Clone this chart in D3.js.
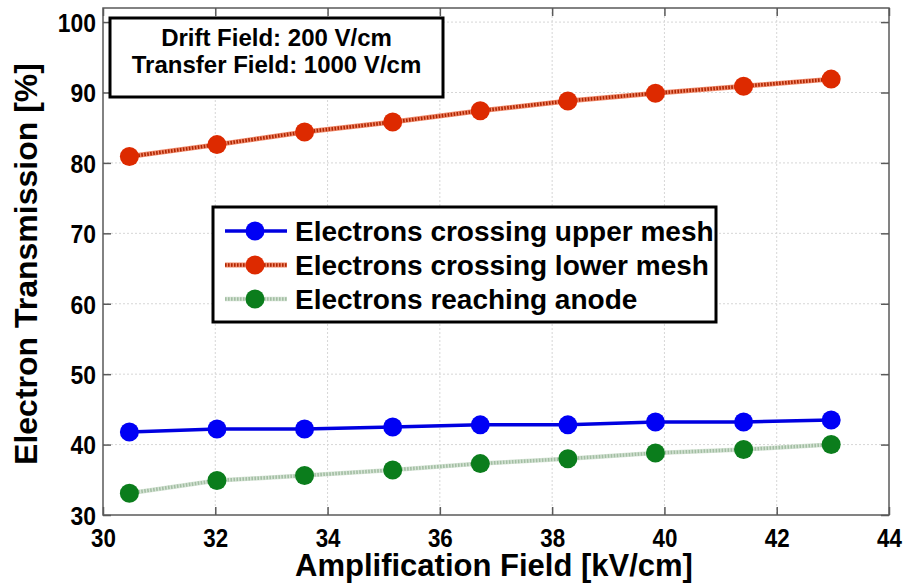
<!DOCTYPE html>
<html>
<head>
<meta charset="utf-8">
<script src="https://cdn.jsdelivr.net/npm/d3@7"></script>
<style>
  html, body { margin: 0; padding: 0; background: #fff; }
  svg { display: block; }
  text { font-family: "Liberation Sans", Arial, Helvetica, sans-serif; font-weight: bold; fill: #000; }
</style>
</head>
<body>
<svg id="chart" width="905" height="583"></svg>
<script>
// Amplification field values (kV/cm)
const fieldKVcm = [30.47, 32.03, 33.59, 35.16, 36.72, 38.28, 39.84, 41.41, 42.97];
// Electron transmission (%) for each stage
const upperMesh = [41.8, 42.2, 42.2, 42.5, 42.8, 42.8, 43.2, 43.2, 43.5];
const lowerMesh = [80.9, 82.6, 84.4, 85.8, 87.4, 88.8, 89.9, 90.9, 91.9];
const anode     = [33.1, 34.9, 35.6, 36.4, 37.3, 38.0, 38.8, 39.3, 40.0];
// Axis ticks
const xTicks = [30, 32, 34, 36, 38, 40, 42, 44];
const yTicks = [30, 40, 50, 60, 70, 80, 90, 100];
// Legend labels and note text
const seriesNames = ["Electrons crossing upper mesh", "Electrons crossing lower mesh", "Electrons reaching anode"];
const noteLines = ["Drift Field: 200 V/cm", "Transfer Field: 1000 V/cm"];

const svg = d3.select("#chart");
const plot = { left: 103, right: 889, top: 8, bottom: 515 };

const x = d3.scaleLinear().domain([30, 44]).range([plot.left, plot.right]);
const y = d3.scaleLinear().domain([30, 102]).range([plot.bottom, plot.top]);

// grid
const grid = svg.append("g");
grid.selectAll("line.gx").data(xTicks.slice(1, -1)).join("line")
  .attr("x1", d => x(d)).attr("x2", d => x(d))
  .attr("y1", plot.top).attr("y2", plot.bottom)
  .attr("stroke", "#d6d6d6").attr("stroke-width", 1).attr("stroke-dasharray", "2,2");
grid.selectAll("line.gy").data(yTicks.slice(1)).join("line")
  .attr("x1", plot.left).attr("x2", plot.right)
  .attr("y1", d => y(d)).attr("y2", d => y(d))
  .attr("stroke", "#d6d6d6").attr("stroke-width", 1).attr("stroke-dasharray", "2,2");

// axes (ticks pointing inward, on all four sides)
const axisColor = "#5a5a5a";
function styleAxis(g) {
  g.select(".domain").remove();
  g.selectAll(".tick line").attr("stroke", axisColor).attr("stroke-width", 1.5);
}
function styleTickText(sel) {
  sel.style("font-size", "26px")
    .style("font-family", "'Liberation Sans', Arial, sans-serif")
    .style("font-weight", "bold")
    .attr("fill", "#000");
}
svg.append("g").attr("transform", `translate(0,${plot.bottom})`)
  .call(d3.axisBottom(x).tickValues(xTicks).tickSize(-8).tickFormat(d3.format("d")))
  .call(styleAxis)
  .call(g => g.selectAll(".tick text").attr("y", 32).attr("dy", 0)
    .attr("transform", "scale(0.86,1)").call(styleTickText));
svg.append("g").attr("transform", `translate(0,${plot.top})`)
  .call(d3.axisTop(x).tickValues(xTicks).tickSize(-8).tickFormat(""))
  .call(styleAxis);
svg.append("g").attr("transform", `translate(${plot.left},0)`)
  .call(d3.axisLeft(y).tickValues(yTicks).tickSize(-8).tickFormat(d3.format("d")))
  .call(styleAxis)
  .call(g => g.selectAll(".tick text").attr("x", -8).attr("dy", "0.36em")
    .attr("transform", "scale(0.88,1)").call(styleTickText));
svg.append("g").attr("transform", `translate(${plot.right},0)`)
  .call(d3.axisRight(y).tickValues(yTicks).tickSize(-8).tickFormat(""))
  .call(styleAxis);

svg.append("rect")
  .attr("x", plot.left).attr("y", plot.top)
  .attr("width", plot.right - plot.left).attr("height", plot.bottom - plot.top)
  .attr("fill", "none").attr("stroke", axisColor).attr("stroke-width", 1.5);

// series
const series = [
  { name: seriesNames[0], values: upperMesh, marker: "#0000f5", base: "#0000e0", baseW: 3.5, dots: null },
  { name: seriesNames[1], values: lowerMesh, marker: "#dd2a00", base: "#f0896b", baseW: 5, dots: "#b02600" },
  { name: seriesNames[2], values: anode, marker: "#0b7d1c", base: "#d6e4d6", baseW: 4.5, dots: "#a3bea3" }
];

const line = d3.line().x(d => x(d[0])).y(d => y(d[1]));

function drawStroke(g, s, pathData) {
  g.append("path").attr("d", pathData).attr("fill", "none")
    .attr("stroke", s.base).attr("stroke-width", s.baseW).attr("stroke-linecap", "butt");
  if (s.dots) {
    g.append("path").attr("d", pathData).attr("fill", "none")
      .attr("stroke", s.dots).attr("stroke-width", 3.5).attr("stroke-dasharray", "1.6,1.4");
  }
}

series.forEach(s => {
  const pts = fieldKVcm.map((f, i) => [f, s.values[i]]);
  const g = svg.append("g");
  drawStroke(g, s, line(pts));
  g.selectAll("circle").data(pts).join("circle")
    .attr("cx", d => x(d[0])).attr("cy", d => y(d[1])).attr("r", 9.5)
    .attr("fill", s.marker);
});

// note box
const note = svg.append("g");
note.append("rect").attr("x", 110).attr("y", 18).attr("width", 333).attr("height", 79)
  .attr("fill", "#fff").attr("stroke", "#000").attr("stroke-width", 3);
note.selectAll("text").data(noteLines).join("text")
  .attr("x", 276.5).attr("y", (d, i) => 46 + i * 27)
  .attr("text-anchor", "middle").style("font-size", "24px").text(d => d);

// legend
const legend = svg.append("g");
legend.append("rect").attr("x", 213).attr("y", 207).attr("width", 503).attr("height", 115)
  .attr("fill", "#fff").attr("stroke", "#000").attr("stroke-width", 3);
series.forEach((s, i) => {
  const cy = 231 + i * 34;
  const g = legend.append("g");
  drawStroke(g, s, `M225,${cy}H287`);
  g.append("circle").attr("cx", 255).attr("cy", cy).attr("r", 9.5).attr("fill", s.marker);
  g.append("text").attr("x", 295).attr("y", cy + 10).style("font-size", "28px").text(s.name);
});

// axis titles
svg.append("text").attr("x", 494).attr("y", 576).attr("text-anchor", "middle")
  .style("font-size", "31px").text("Amplification Field [kV/cm]");
svg.append("text").attr("transform", "translate(37,264) rotate(-90)").attr("text-anchor", "middle")
  .style("font-size", "32px").text("Electron Transmission [%]");
</script>
</body>
</html>
